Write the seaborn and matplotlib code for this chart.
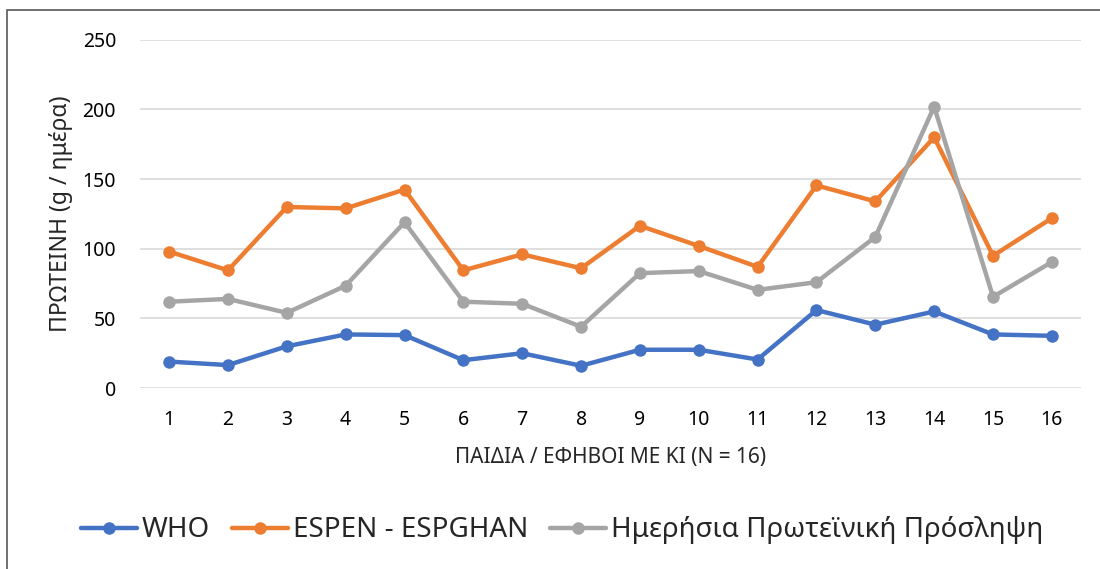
import matplotlib
matplotlib.use("Agg")
import matplotlib.pyplot as plt
import seaborn as sns
import pandas as pd
from matplotlib.patches import Rectangle

children = list(range(1, 17))
who = [19, 16.5, 30, 38.5, 38, 20, 25, 16, 27.5, 27.5, 20.5, 56, 45.5, 55, 38.5, 37.5]
espen = [98, 84.5, 130, 129, 142.5, 84.5, 96, 86, 116.5, 102, 87, 145.5, 134, 180, 95, 122]
intake = [62, 64, 54, 73.5, 119, 62, 60.5, 44, 82.5, 84, 70.5, 76, 108.5, 202, 65.5, 90.5]

series_names = ["WHO", "ESPEN - ESPGHAN", "Ημερήσια Πρωτεϊνική Πρόσληψη"]
colors = ["#4472C4", "#ED7D31", "#A5A5A5"]

df = pd.concat([
    pd.DataFrame({"child": children, "value": vals, "series": name})
    for name, vals in zip(series_names, [who, espen, intake])
])

sns.set_theme(style="white")
plt.rcParams["font.family"] = ["Noto Sans", "DejaVu Sans"]

fig = plt.figure(figsize=(11, 5.69), dpi=100)
ax = fig.add_axes([0.127, 0.318, 0.856, 0.612])

sns.lineplot(data=df, x="child", y="value", hue="series", style="series",
             palette=colors, markers=["o", "o", "o"], dashes=False,
             linewidth=3.2, markersize=9, markeredgewidth=0, ax=ax)

ax.set_xlim(0.5, 16.5)
ax.set_ylim(0, 250)
ax.set_xticks(children)
ax.set_yticks(range(0, 251, 50))
ax.tick_params(axis="both", length=0, labelsize=14, colors="#000000")
ax.tick_params(axis="y", pad=17)
ax.tick_params(axis="x", pad=16)
ax.grid(axis="y", color="#D9D9D9", linewidth=1.2)
ax.set_axisbelow(True)
for s in ax.spines.values():
    s.set_visible(False)

ax.set_xlabel("ΠΑΙΔΙΑ / ΕΦΗΒΟΙ ΜΕ ΚΙ (N = 16)", fontsize=15, labelpad=12)
ax.set_ylabel("ΠΡΩΤΕΙΝΗ (g / ημέρα)", fontsize=16.5, labelpad=7)

handles, labels = ax.get_legend_handles_labels()
ax.get_legend().remove()
fig.legend(handles, labels, loc="center", bbox_to_anchor=(0.511, 0.068),
           ncol=3, frameon=False, fontsize=20, handlelength=2.0,
           handletextpad=0.18, columnspacing=0.8)

fig.patches.append(Rectangle((7 / 1100, -0.1), 1.2, 1.1 - 10 / 569,
                             transform=fig.transFigure, fill=False,
                             edgecolor="#595959", linewidth=1.2))

fig.savefig("out.png", dpi=100)
